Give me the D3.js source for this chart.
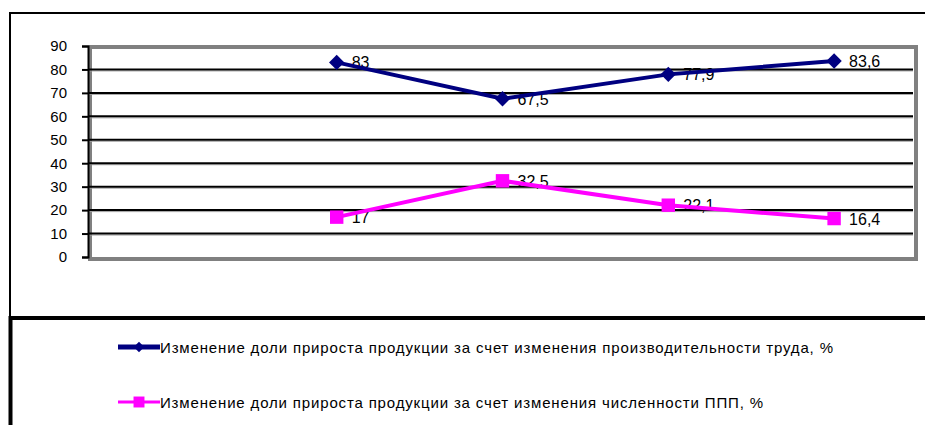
<!DOCTYPE html>
<html>
<head>
<meta charset="utf-8">
<script src="https://cdn.jsdelivr.net/npm/d3@7"></script>
<style>
  body { margin: 0; background: #fff; }
  svg { display: block; font-family: "Liberation Sans", Arial, sans-serif; }
</style>
</head>
<body>
<script>
const categories = ['1', '2', '3', '4', '5'];
const productivity = [null, 83, 67.5, 77.9, 83.6];
const headcount = [null, 17, 32.5, 22.1, 16.4];
const labelsProd = ['', '83', '67,5', '77,9', '83,6'];
const labelsHead = ['', '17', '32,5', '22,1', '16,4'];
const yTicks = [0, 10, 20, 30, 40, 50, 60, 70, 80, 90];
const legendNames = [
  'Изменение доли прироста продукции за счет изменения производительности труда, %',
  'Изменение доли прироста продукции за счет изменения численности ППП, %'
];

const width = 925;
const height = 425;
const plot = {left: 88, right: 917, top: 46, bottom: 257};

const svg = d3.select('body')
  .append('svg')
  .attr('width', width)
  .attr('height', height);

// outer chart frame
svg.append('path')
  .attr('d', `M10,${height} L10,13 L${width},13`)
  .attr('fill', 'none')
  .attr('stroke', '#000')
  .attr('stroke-width', 2);

// legend frame
svg.append('path')
  .attr('d', `M10.5,${height} L10.5,318 L${width},318`)
  .attr('fill', 'none')
  .attr('stroke', '#000')
  .attr('stroke-width', 4);

const xScale = d3.scaleBand()
  .domain(categories)
  .range([plot.left, plot.right]);

const yScale = d3.scaleLinear()
  .domain([0, 90])
  .range([plot.bottom, plot.top]);

const cx = i => xScale(categories[i]) + xScale.bandwidth() / 2;

// plot border (gray)
svg.append('rect')
  .attr('x', plot.left + 2)
  .attr('y', plot.top + 1)
  .attr('width', plot.right - plot.left - 3)
  .attr('height', plot.bottom - plot.top + 1)
  .attr('fill', '#fff')
  .attr('stroke', '#808080')
  .attr('stroke-width', 4);

// gridlines
const grid = svg.append('g');
yTicks.filter(t => t > 0 && t < 90).forEach(t => {
  grid.append('line')
    .attr('x1', plot.left).attr('x2', plot.right - 4)
    .attr('y1', yScale(t) + 1.5).attr('y2', yScale(t) + 1.5)
    .attr('stroke', '#a0a0a0').attr('stroke-width', 1);
  grid.append('line')
    .attr('x1', plot.left).attr('x2', plot.right - 4)
    .attr('y1', yScale(t)).attr('y2', yScale(t))
    .attr('stroke', '#000').attr('stroke-width', 2);
});

// y axis
const yAxis = d3.axisLeft(yScale)
  .tickValues(yTicks)
  .tickSize(6)
  .tickPadding(15);

const yG = svg.append('g')
  .attr('transform', `translate(${plot.left}, 0)`)
  .call(yAxis);
yG.select('.domain').attr('stroke', '#000').attr('stroke-width', 2);
yG.selectAll('.tick line').attr('stroke', '#000').attr('stroke-width', 2);
yG.selectAll('.tick text')
  .attr('font-size', 15)
  .attr('font-family', '"Liberation Sans", Arial, sans-serif')
  .attr('fill', '#000');

const line = d3.line()
  .defined(d => d[1] != null)
  .x(d => cx(d[0]))
  .y(d => yScale(d[1]));

const seriesList = [
  {values: productivity, labels: labelsProd, color: '#000080', shape: 'diamond'},
  {values: headcount, labels: labelsHead, color: '#ff00ff', shape: 'square'}
];

seriesList.forEach(s => {
  const pts = s.values.map((v, i) => [i, v]);
  // labels
  svg.append('g').selectAll('text')
    .data(pts.filter(d => d[1] != null))
    .enter()
    .append('text')
    .attr('x', d => cx(d[0]) + 15)
    .attr('y', d => yScale(d[1]) + 6)
    .attr('font-size', 16)
    .attr('fill', '#000')
    .text(d => s.labels[d[0]]);

  svg.append('path')
    .datum(pts)
    .attr('d', line)
    .attr('fill', 'none')
    .attr('stroke', s.color)
    .attr('stroke-width', 4);

  const sym = s.shape === 'diamond'
    ? d3.symbol().type(d3.symbolDiamond2).size(150)
    : d3.symbol().type(d3.symbolSquare).size(180);
  svg.append('g').selectAll('path')
    .data(pts.filter(d => d[1] != null))
    .enter()
    .append('path')
    .attr('d', sym)
    .attr('transform', d => `translate(${cx(d[0])},${yScale(d[1])})`)
    .attr('fill', s.color);
});

// legend
const legendY = [347, 402];
const legendWidths = [673, 603];
seriesList.forEach((s, i) => {
  const g = svg.append('g').attr('transform', `translate(118, ${legendY[i]})`);
  g.append('line')
    .attr('x1', 0).attr('x2', 42)
    .attr('stroke', s.color)
    .attr('stroke-width', i === 0 ? 5 : 3);
  const sym = s.shape === 'diamond'
    ? d3.symbol().type(d3.symbolDiamond2).size(70)
    : d3.symbol().type(d3.symbolSquare).size(120);
  g.append('path')
    .attr('d', sym)
    .attr('transform', 'translate(21,0)')
    .attr('fill', s.color);
  g.append('text')
    .attr('x', 42)
    .attr('y', 6)
    .attr('font-size', 15)
    .attr('textLength', legendWidths[i])
    .attr('lengthAdjust', 'spacing')
    .attr('fill', '#000')
    .text(legendNames[i]);
});
</script>
</body>
</html>
